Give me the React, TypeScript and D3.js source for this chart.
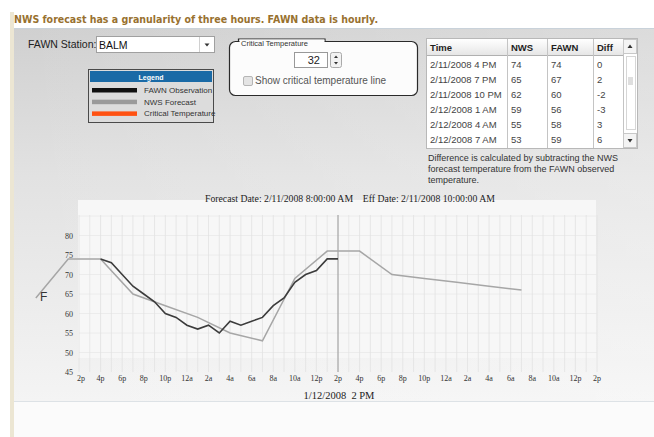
import React from "react";
import * as d3 from "d3";

// page header / controls
const pageTitle = "NWS forecast has a granularity of three hours. FAWN data is hourly.";
const stationName = "BALM";
const criticalTemp = 32;

// NWS forecast, every three hours
const nwsTimes = [
  "2008-02-11T10:00", "2008-02-11T13:00", "2008-02-11T16:00", "2008-02-11T19:00",
  "2008-02-11T22:00", "2008-02-12T01:00", "2008-02-12T04:00", "2008-02-12T07:00",
  "2008-02-12T10:00", "2008-02-12T13:00", "2008-02-12T16:00", "2008-02-12T19:00",
  "2008-02-12T22:00", "2008-02-13T01:00", "2008-02-13T04:00", "2008-02-13T07:00",
];
const nwsTemps = [64, 74, 74, 65, 62, 59, 55, 53, 69, 76, 76, 70, 69, 68, 67, 66];

// FAWN observations, hourly
const fawnTimes = [
  "2008-02-11T16:00", "2008-02-11T17:00", "2008-02-11T18:00", "2008-02-11T19:00",
  "2008-02-11T20:00", "2008-02-11T21:00", "2008-02-11T22:00", "2008-02-11T23:00",
  "2008-02-12T00:00", "2008-02-12T01:00", "2008-02-12T02:00", "2008-02-12T03:00",
  "2008-02-12T04:00", "2008-02-12T05:00", "2008-02-12T06:00", "2008-02-12T07:00",
  "2008-02-12T08:00", "2008-02-12T09:00", "2008-02-12T10:00", "2008-02-12T11:00",
  "2008-02-12T12:00", "2008-02-12T13:00", "2008-02-12T14:00",
];
const fawnTemps = [74, 73, 70, 67, 65, 63, 60, 59, 57, 56, 57, 55, 58, 57, 58, 59, 62, 64, 68, 70, 71, 74, 74];

// table
const tableHeaders = ["Time", "NWS", "FAWN", "Diff"];
const tableTimes = ["2/11/2008 4 PM", "2/11/2008 7 PM", "2/11/2008 10 PM", "2/12/2008 1 AM", "2/12/2008 4 AM", "2/12/2008 7 AM"];
const tableNws = [74, 65, 62, 59, 55, 53];
const tableFawn = [74, 67, 60, 56, 58, 59];
const tableDiff = [0, 2, -2, -3, 3, 6];
const tableNote = [
  "Difference is calculated by subtracting the NWS",
  "forecast temperature from the FAWN observed",
  "temperature.",
];

// legend
const legendLabels = ["FAWN Observation", "NWS Forecast", "Critical Temperature"];
const legendColors = ["#111111", "#9a9a9a", "#ff5212"];

// axes
const xTickLabels = [
  "2p", "4p", "6p", "8p", "10p", "12a", "2a", "4a", "6a", "8a", "10a", "12p",
  "2p", "4p", "6p", "8p", "10p", "12a", "2a", "4a", "6a", "8a", "10a", "12p", "2p",
];
const yTicks = [45, 50, 55, 60, 65, 70, 75, 80];
const yGrid = [50, 55, 60, 65, 70, 75, 80, 85];
const chartTitle = "Forecast Date: 2/11/2008 8:00:00 AM    Eff Date: 2/11/2008 10:00:00 AM";
const xTitle = "1/12/2008  2 PM";
const domainStart = "2008-02-11T14:00";
const domainEnd = "2008-02-13T14:00";
const nowTime = "2008-02-12T14:00";

const sans = "'Liberation Sans', Arial, sans-serif";
const serif = "'Liberation Serif', 'Times New Roman', serif";

const parse = d3.timeParse("%Y-%m-%dT%H:%M");

const App: React.FC = () => {
  const t0 = parse(domainStart)!;
  const t1 = parse(domainEnd)!;
  const x = d3.scaleTime().domain([t0, t1]).range([79, 597]);
  const y = d3.scaleLinear().domain([45, 85]).range([372, 216]);

  const hours = d3.timeHour.range(t0, d3.timeMinute.offset(t1, 1));
  const tickTimes = d3.timeHour.range(t0, d3.timeMinute.offset(t1, 1), 2);

  const line = d3
    .line<[Date, number]>()
    .x(d => x(d[0]))
    .y(d => y(d[1]));

  const nws = nwsTimes.map((t, i) => [parse(t)!, nwsTemps[i]] as [Date, number]);
  const fawn = fawnTimes.map((t, i) => [parse(t)!, fawnTemps[i]] as [Date, number]);

  // table column lefts
  const cols = [426, 507, 547, 593, 623];
  const nowX = x(parse(nowTime)!);

  return (
    <svg
      width={654}
      height={437}
      style={{ position: "absolute", left: 0, top: 0 }}
    >
      <defs>
        <linearGradient id="panelBg" x1="0" y1="0" x2="0" y2="1">
          <stop offset="0" stopColor="#d0d0d0" />
          <stop offset="0.4" stopColor="#e2e2e2" />
          <stop offset="1" stopColor="#f4f4f4" />
        </linearGradient>
        <linearGradient id="panelSide" x1="0" y1="0" x2="1" y2="0">
          <stop offset="0" stopColor="#ffffff" stopOpacity={0} />
          <stop offset="1" stopColor="#ffffff" stopOpacity={0.25} />
        </linearGradient>
        <linearGradient id="headBg" x1="0" y1="0" x2="0" y2="1">
          <stop offset="0" stopColor="#ffffff" />
          <stop offset="1" stopColor="#e6e6e6" />
        </linearGradient>
      </defs>

      {/* page */}
      <rect width={654} height={437} fill="#ffffff" />
      <rect x={10} y={12} width={4} height={425} fill="#ece6d3" />
      <text x={14} y={23} fontFamily="'DejaVu Sans', Verdana, sans-serif" fontWeight="bold"
        fontSize={11} fill="#98712f" textLength={364} lengthAdjust="spacingAndGlyphs">
        {pageTitle}
      </text>

      {/* panel */}
      <rect x={14} y={28} width={640} height={373} fill="url(#panelBg)" />
      <rect x={14} y={28} width={640} height={373} fill="url(#panelSide)" />
      <line x1={14} x2={654} y1={28.5} y2={28.5} stroke="#c9d2da" />
      <line x1={14} x2={654} y1={401.5} y2={401.5} stroke="#dde2e6" />
      <rect x={14} y={402} width={640} height={35} fill="#fbfbfb" />

      {/* station combo */}
      <text x={28} y={48} fontFamily={sans} fontSize={10.5} fill="#222">FAWN Station:</text>
      <rect x={96.5} y={36.5} width={118} height={16} fill="#fff" stroke="#a0a0a0" />
      <text x={99} y={49} fontFamily={sans} fontSize={10.5} fill="#111">{stationName}</text>
      <line x1={199.5} x2={199.5} y1={37} y2={52} stroke="#d0d0d0" />
      <path d="M204.5,43.5 L209.5,43.5 L207,46.5 Z" fill="#333" />

      {/* legend */}
      <rect x={88.5} y={69.5} width={125} height={53} fill="#dcdcdc" stroke="#4a4a4a" />
      <rect x={90} y={71} width={122} height={11} fill="#1a6aa6" />
      <text x={151} y={79.5} textAnchor="middle" fontFamily={sans} fontSize={7}
        fontWeight="bold" fill="#fff">Legend</text>
      {legendLabels.map((l, i) => (
        <g key={l}>
          <rect x={92} y={88 + i * 11.7} width={45} height={4.5} fill={legendColors[i]} />
          <text x={144} y={93 + i * 11.7} fontFamily={sans} fontSize={8} fill="#333">{l}</text>
        </g>
      ))}

      {/* critical temperature box */}
      <rect x={229.5} y={41.5} width={188} height={54} rx={6} fill="#fcfcfc" stroke="#2a2a2a" strokeWidth={1.2} />
      <path d="M238.5,41.5 L238.5,39 L325,39 L325,41.5" fill="none" stroke="#2a2a2a" strokeWidth={1.2} />
      <rect x={239.5} y={39.5} width={85} height={3} fill="#fcfcfc" />
      <text x={241} y={45.5} fontFamily={sans} fontSize={7.5} fill="#333">Critical Temperature</text>
      <rect x={294.5} y={52.5} width={33} height={15} fill="#fff" stroke="#999" />
      <text x={320} y={64} textAnchor="end" fontFamily={sans} fontSize={11} fill="#222">{criticalTemp}</text>
      <rect x={330.5} y={52.5} width={11} height={15} rx={2} fill="#f2f2f2" stroke="#aaa" />
      <path d="M334,58 L338,58 L336,55.5 Z" fill="#333" />
      <path d="M334,62 L338,62 L336,64.5 Z" fill="#333" />
      <rect x={243.5} y={76.5} width={9} height={9} rx={1.5} fill="#e4e4e4" stroke="#b5b5b5" />
      <text x={255} y={84} fontFamily={sans} fontSize={10} fill="#555">Show critical temperature line</text>

      {/* table */}
      <rect x={426.5} y={38.5} width={211} height={110} fill="#fff" stroke="#b8b8b8" />
      <rect x={427} y={39} width={196} height={16} fill="url(#headBg)" />
      <line x1={427} x2={623} y1={55.5} y2={55.5} stroke="#b0b0b0" />
      {cols.slice(1).map(c => (
        <line key={c} x1={c + 0.5} x2={c + 0.5} y1={39} y2={148} stroke="#c4c4c4" />
      ))}
      {tableHeaders.map((h, i) => (
        <text key={h} x={cols[i] + 4} y={51} fontFamily={sans} fontSize={9.5}
          fontWeight="bold" fill="#1e1e1e">{h}</text>
      ))}
      {tableTimes.map((t, i) => (
        <g key={t} fontFamily={sans} fontSize={9.5} fill="#444">
          <text x={cols[0] + 4} y={68 + i * 15}>{t}</text>
          <text x={cols[1] + 4} y={68 + i * 15}>{tableNws[i]}</text>
          <text x={cols[2] + 4} y={68 + i * 15}>{tableFawn[i]}</text>
          <text x={cols[3] + 4} y={68 + i * 15}>{tableDiff[i]}</text>
        </g>
      ))}
      {/* scrollbar */}
      <rect x={623.5} y={39.5} width={13} height={14} fill="#f4f4f4" stroke="#c8c8c8" />
      <path d="M627.5,48 L632.5,48 L630,44.5 Z" fill="#333" />
      <rect x={623.5} y={133.5} width={13} height={14} fill="#f4f4f4" stroke="#c8c8c8" />
      <path d="M627.5,139 L632.5,139 L630,142.5 Z" fill="#333" />
      <rect x={626.5} y={56.5} width={9} height={73} fill="#fff" stroke="#d6d6d6" />
      <rect x={628} y={77} width={5} height={8} fill="#dedede" />
      {tableNote.map((l, i) => (
        <text key={l} x={428} y={161 + i * 11} fontFamily={sans} fontSize={9} fill="#333">{l}</text>
      ))}

      {/* chart */}
      <rect x={78} y={200} width={518} height={158} fill="#f7f7f7" />
      <text x={350} y={202} textAnchor="middle" fontFamily={serif} fontSize={10.5} fill="#222"
        textLength={290} lengthAdjust="spacingAndGlyphs" style={{ whiteSpace: "pre" }}>
        {chartTitle}
      </text>
      {yGrid.map(v => (
        <line key={v} x1={79} x2={597} y1={y(v)} y2={y(v)} stroke="#ececec" />
      ))}
      {hours.map((h, i) => (
        <line key={i} x1={x(h)} x2={x(h)} y1={y(85) - 1} y2={y(45)} stroke="#e2e2e2" strokeWidth={0.8} />
      ))}
      <line x1={nowX} x2={nowX} y1={y(85) - 1} y2={y(45)} stroke="#9a9a9a" strokeWidth={1} />

      {yTicks.map(v => (
        <text key={v} x={73} y={y(v) + 3} textAnchor="end" fontFamily={serif} fontSize={8} fill="#333">{v}</text>
      ))}
      {tickTimes.map((t, i) => (
        <text key={i} x={x(t) + (i === 0 ? 2 : 0)} y={381} textAnchor="middle" fontFamily={serif}
          fontSize={8} fill="#333">{xTickLabels[i]}</text>
      ))}
      <text x={339} y={399} textAnchor="middle" fontFamily={serif} fontSize={10.5} fill="#222"
        style={{ whiteSpace: "pre" }}>{xTitle}</text>

      <path d={line(nws) ?? ""} fill="none" stroke="#a6a6a6" strokeWidth={1.5} />
      <path d={line(fawn) ?? ""} fill="none" stroke="#3c3c3c" strokeWidth={1.6} />

      <text x={40} y={301} fontFamily={sans} fontSize={12} fill="#333">F</text>
    </svg>
  );
};

export default App;
